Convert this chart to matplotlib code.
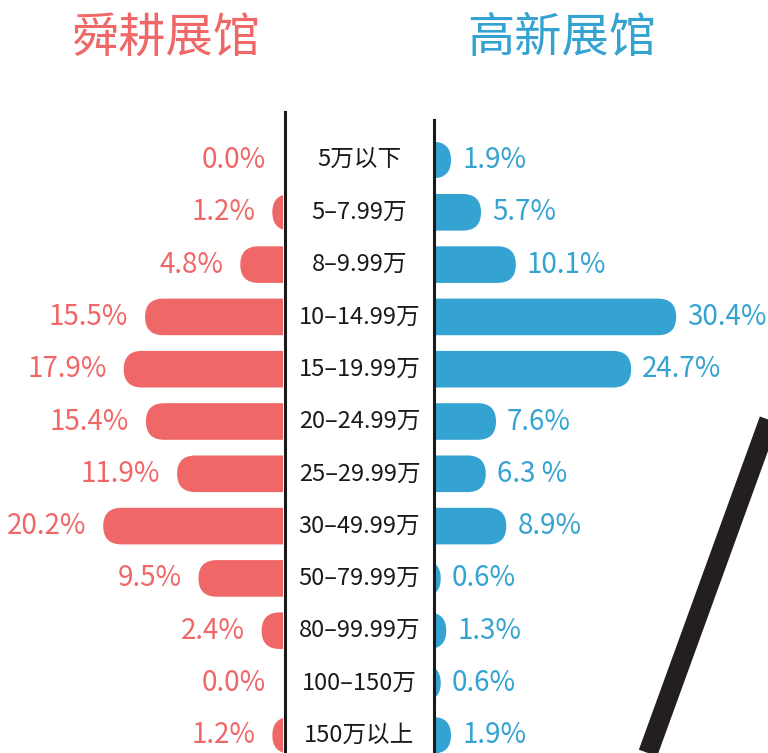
import matplotlib
matplotlib.use("Agg")
import matplotlib.pyplot as plt
from matplotlib.patches import FancyBboxPatch
from matplotlib.lines import Line2D

plt.rcParams['font.family'] = ['Noto Sans CJK SC', 'DejaVu Sans']

# ---------- data ----------
categories = ["5万以下", "5–7.99万", "8–9.99万", "10–14.99万", "15–19.99万",
              "20–24.99万", "25–29.99万", "30–49.99万", "50–79.99万",
              "80–99.99万", "100–150万", "150万以上"]
shungeng = [0.0, 1.2, 4.8, 15.5, 17.9, 15.4, 11.9, 20.2, 9.5, 2.4, 0.0, 1.2]
gaoxin = [1.9, 5.7, 10.1, 30.4, 24.7, 7.6, 6.3, 8.9, 0.6, 1.3, 0.6, 1.9]
shungeng_labels = ["0.0%", "1.2%", "4.8%", "15.5%", "17.9%", "15.4%",
                   "11.9%", "20.2%", "9.5%", "2.4%", "0.0%", "1.2%"]
gaoxin_labels = ["1.9%", "5.7%", "10.1%", "30.4%", "24.7%", "7.6%",
                 "6.3 %", "8.9%", "0.6%", "1.3%", "0.6%", "1.9%"]
titles = ["舜耕展馆", "高新展馆"]

RED = "#F06767"
BLUE = "#35A3D2"

W, H = 768, 753
fig = plt.figure(figsize=(W / 100, H / 100), dpi=100)
fig.patch.set_facecolor("white")

n = len(categories)
row_px = 52.3
top_px = 160 - row_px / 2
bot_px = top_px + n * row_px
ax_bottom = 1 - bot_px / H
ax_height = (bot_px - top_px) / H

left_end, right_start = 283, 436
ax_l = fig.add_axes([0, ax_bottom, left_end / W, ax_height])
ax_r = fig.add_axes([right_start / W, ax_bottom, (W - right_start) / W, ax_height])
ax_c = fig.add_axes([left_end / W, ax_bottom, (right_start - left_end) / W, ax_height])

ax_l.set_xlim(left_end / 8.9, 0)
ax_r.set_xlim(0, (W - right_start) / 7.9)
for ax in (ax_l, ax_r, ax_c):
    ax.set_ylim(n - 0.5, -0.5)
    ax.axis("off")
ax_c.set_xlim(0, 1)

bar_h = 0.7


def rounded_bars(ax, values, labels, color, side):
    pos = ax.get_position()
    x0, x1 = ax.get_xlim()
    px_x = pos.width * W / abs(x1 - x0)
    px_y = pos.height * H / n
    radius_px = bar_h * px_y / 2
    r = radius_px / px_x
    aspect = (radius_px / px_y) / r
    for i, (v, lab) in enumerate(zip(values, labels)):
        start = -2.2 * r
        p = FancyBboxPatch((start, i - bar_h / 2), v - start, bar_h,
                           boxstyle=f"round,pad=0,rounding_size={r}",
                           mutation_aspect=aspect, facecolor=color,
                           edgecolor="none")
        ax.add_patch(p)
        off = -17 if side == "left" else 11
        ax.annotate(lab, xy=(v, i), xytext=(off, 0), textcoords="offset pixels",
                    ha="right" if side == "left" else "left", va="center",
                    fontsize=20, color=color, annotation_clip=False)


rounded_bars(ax_l, shungeng, shungeng_labels, RED, "left")
rounded_bars(ax_r, gaoxin, gaoxin_labels, BLUE, "right")

for i, c in enumerate(categories):
    ax_c.text(0.5, i, c, ha="center", va="center", fontsize=17, color="#1a1a1a")

# frame lines of the centre column
fig.add_artist(Line2D([285 / W, 285 / W], [1 - 112 / H, 0], color="#1a1a1a", lw=2.2))
fig.add_artist(Line2D([434 / W, 434 / W], [1 - 120 / H, 0], color="#1a1a1a", lw=2.2))

# diagonal decoration
fig.add_artist(Line2D([648 / W, 778 / W], [0, 1 - 395 / H], color="#231f20",
                      lw=14, solid_capstyle="butt"))

fig.text(166 / W, 1 - 39 / H, titles[0], fontsize=34, color=RED,
         ha="center", va="center")
fig.text(562 / W, 1 - 39 / H, titles[1], fontsize=34, color=BLUE,
         ha="center", va="center")

fig.savefig("out.png", dpi=100, facecolor="white")
